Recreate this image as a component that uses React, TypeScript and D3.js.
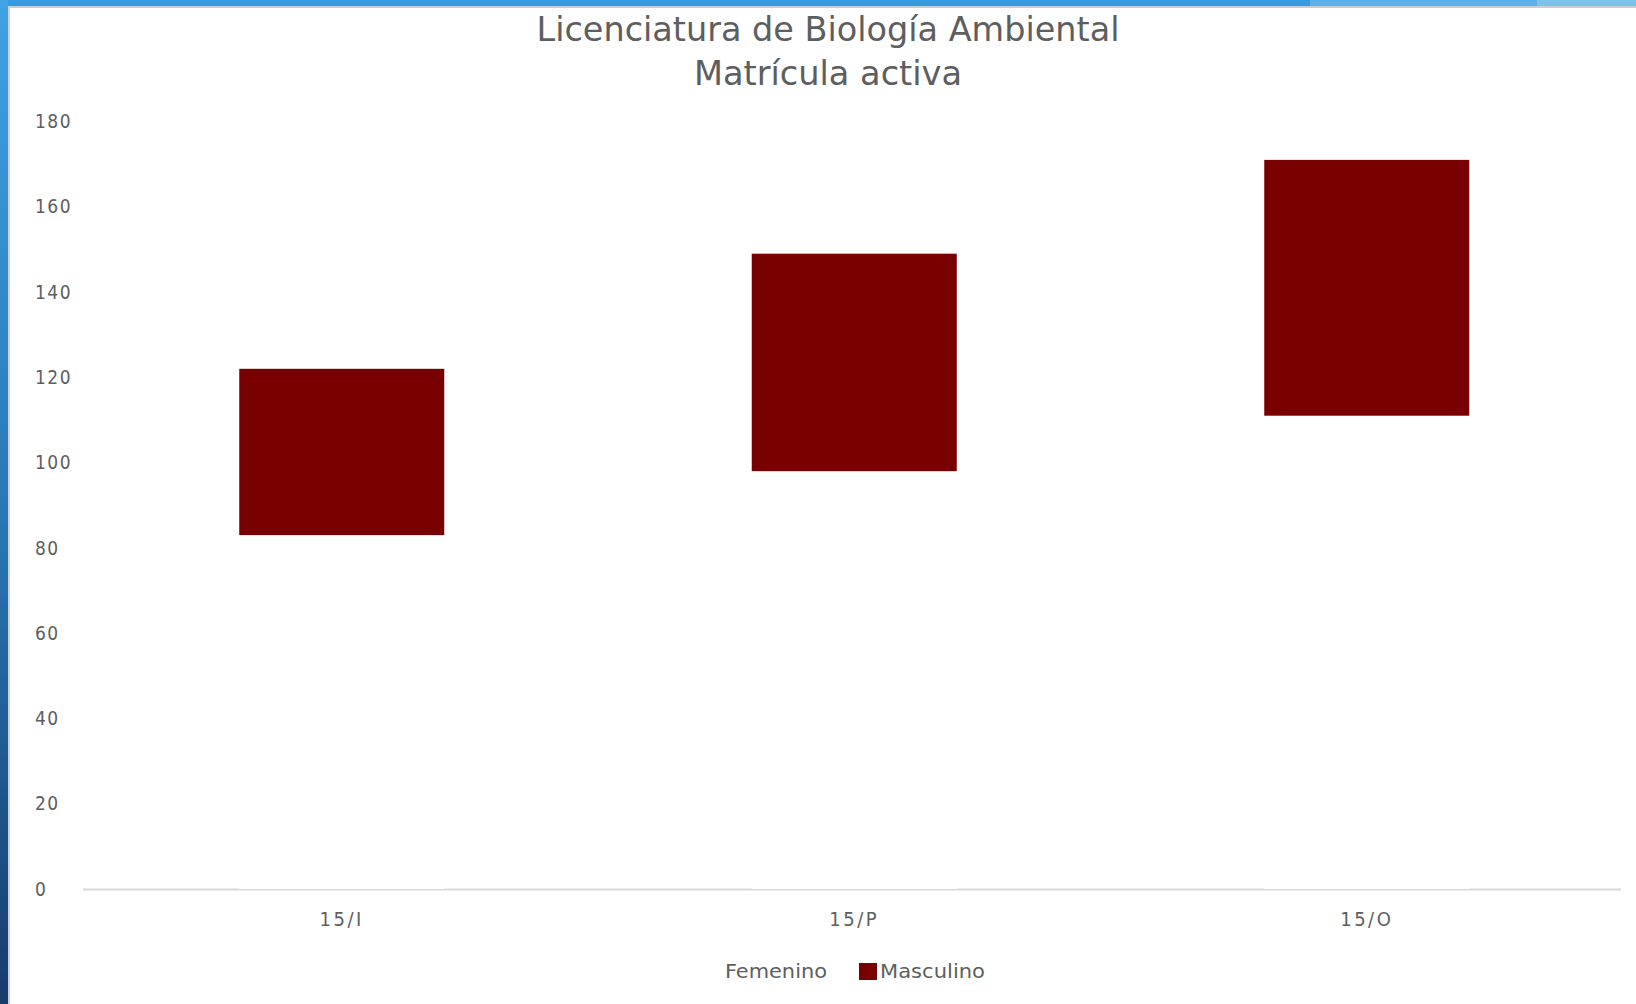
import React from "react";
import * as d3 from "d3";

const categories = ["15/I", "15/P", "15/O"];
const femenino = [83, 98, 111];
const masculino = [39, 51, 60];
const seriesNames = ["Femenino", "Masculino"];
const yTicks = [0, 20, 40, 60, 80, 100, 120, 140, 160, 180];
const titleLines = ["Licenciatura de Biología Ambiental", "Matrícula activa"];

const W = 1636;
const H = 1004;
const FONT = "'DejaVu Sans Condensed', 'DejaVu Sans', sans-serif";
const TEXT = "#5e5e5e";
const RED = "#780000";

export default function App() {
  const x = d3.scaleBand<string>().domain(categories).range([85.5, 1623]).padding(0);
  const y = d3.scaleLinear().domain([0, 180]).range([889, 121.5]);
  const barW = x.bandwidth() * 0.4;

  const data = categories.map((c, i) => ({ cat: c, Femenino: femenino[i], Masculino: masculino[i] }));
  const stack = d3.stack<any>().keys(seriesNames)(data);
  const colors: Record<string, string> = { Femenino: "#ffffff", Masculino: RED };

  return (
    <svg width={W} height={H} style={{ position: "absolute", left: 0, top: 0 }} fontFamily={FONT}>
      <defs>
        <linearGradient id="leftBar" x1="0" y1="0" x2="0" y2="1">
          <stop offset="0" stopColor="#3fa2e2" />
          <stop offset="0.5" stopColor="#2a78b8" />
          <stop offset="1" stopColor="#173c6c" />
        </linearGradient>
      </defs>
      <rect x={0} y={0} width={W} height={H} fill="#ffffff" />
      {/* frame */}
      <rect x={0} y={0} width={1310} height={6} fill="#359be0" />
      <rect x={1310} y={0} width={227} height={6} fill="#5cb2e8" />
      <rect x={1537} y={0} width={99} height={6} fill="#7cc3ec" />
      <rect x={0} y={6} width={W} height={2} fill="#c8cdd2" />
      <rect x={0} y={0} width={8} height={H} fill="url(#leftBar)" />
      <rect x={8} y={6} width={2} height={H} fill="#c8d2da" />

      {/* title */}
      <text x={828} y={41} textAnchor="middle" fontSize={34} fill={TEXT} textLength={583} lengthAdjust="spacingAndGlyphs">
        {titleLines[0]}
      </text>
      <text x={828} y={85} textAnchor="middle" fontSize={34} fill={TEXT} textLength={268} lengthAdjust="spacingAndGlyphs">
        {titleLines[1]}
      </text>

      {/* y tick labels */}
      {yTicks.map((t) => (
        <text key={t} x={35} y={y(t)} dy="0.35em" fontSize={19} letterSpacing={1.5} fill={TEXT}>
          {t}
        </text>
      ))}

      {/* axis line */}
      <line x1={83} x2={1621} y1={889.5} y2={889.5} stroke="#d9d9d9" strokeWidth={2} />

      {/* bars */}
      {stack.map((s) => (
        <g key={s.key} fill={colors[s.key]}>
          {s.map((d, i) => {
            const cx = (x(categories[i]) as number) + x.bandwidth() / 2;
            return (
              <rect key={i} x={cx - barW / 2} y={y(d[1])} width={barW} height={y(d[0]) - y(d[1])} />
            );
          })}
        </g>
      ))}

      {/* category labels */}
      {categories.map((c) => (
        <text key={c} x={(x(c) as number) + x.bandwidth() / 2} y={919} dy="0.35em" textAnchor="middle" fontSize={20} letterSpacing={2.5} fill={TEXT}>
          {c}
        </text>
      ))}

      {/* legend */}
      <rect x={706} y={962} width={17} height={17} fill="#ffffff" />
      <text x={725} y={971} dy="0.35em" fontSize={19} fill={TEXT} textLength={102} lengthAdjust="spacingAndGlyphs">
        {seriesNames[0]}
      </text>
      <rect x={859} y={963} width={18} height={17} fill={RED} />
      <text x={880} y={971} dy="0.35em" fontSize={19} fill={TEXT} textLength={105} lengthAdjust="spacingAndGlyphs">
        {seriesNames[1]}
      </text>
    </svg>
  );
}
